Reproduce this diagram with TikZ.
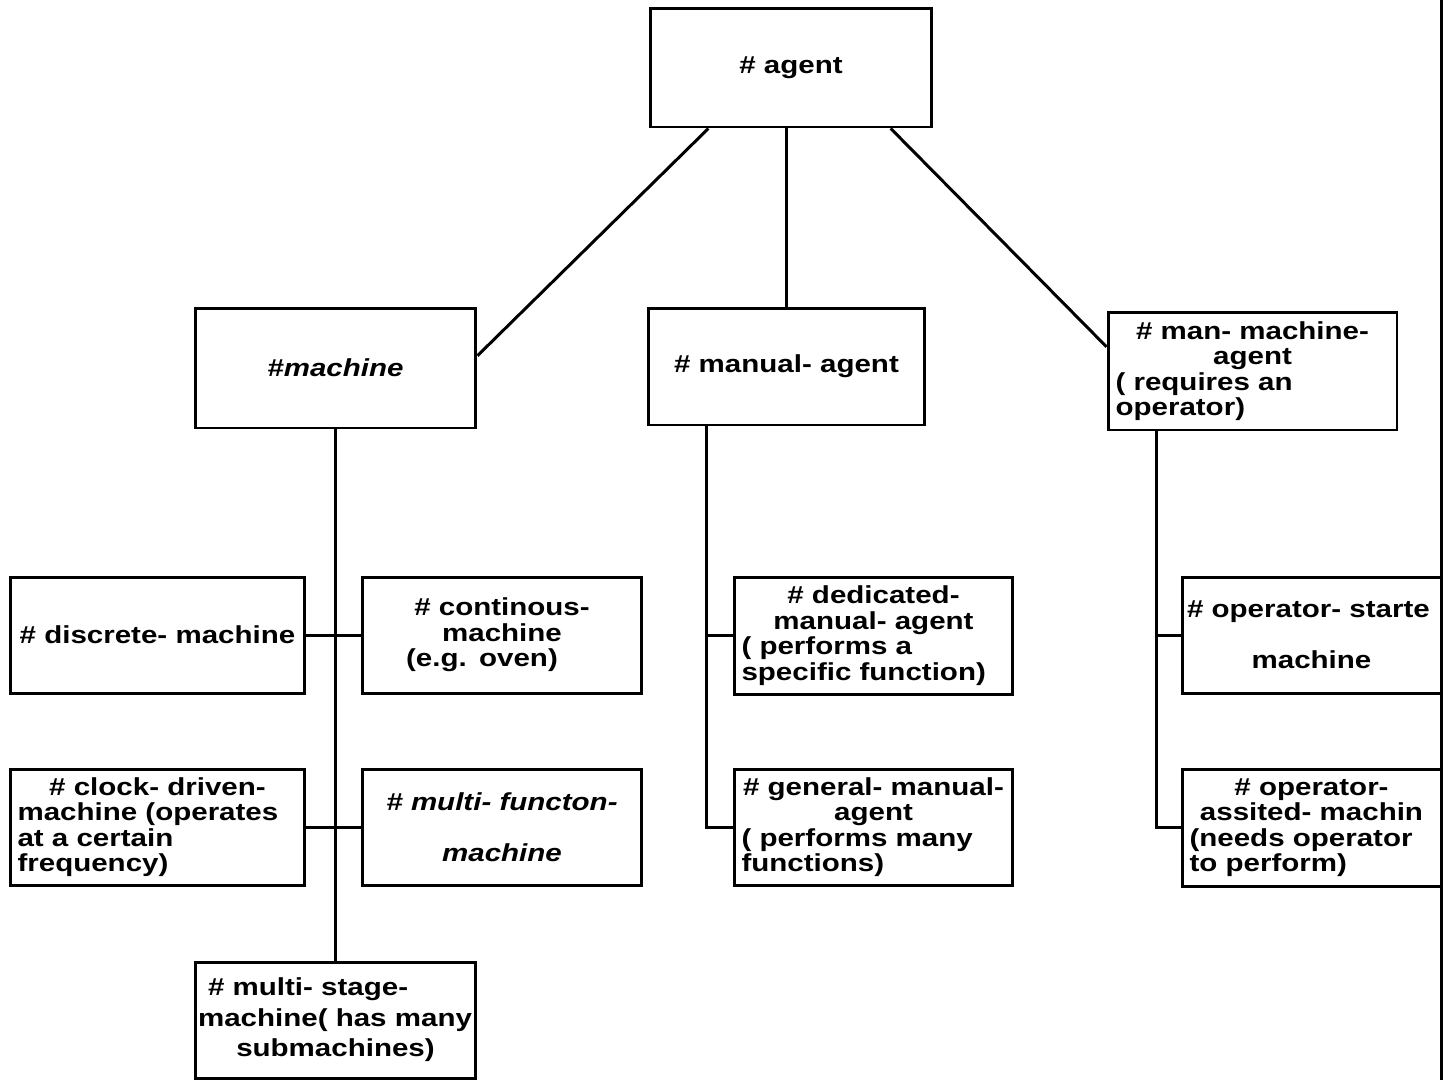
\documentclass[tikz,border=0pt]{standalone}
\usepackage{fontspec}
\newfontfamily\chartfont[FakeStretch=1.2]{Liberation Sans}
\usetikzlibrary{calc}

\begin{document}
\begin{tikzpicture}[x=0.02cm,y=-0.02cm,
    box/.style={draw, line width=1.7pt, inner xsep=0.15cm, inner ysep=0pt, align=center,
        font=\chartfont\bfseries\fontsize{14pt}{14.5pt}\selectfont},
    link/.style={line width=1.7pt}]
            \useasboundingbox (0,0) rectangle (1456,1080);
            % top box
            \node [box,text width=5.34cm,minimum height=2.38cm] (agent) at (791,67.5) {\# agent};
            % second row
            \node [box,text width=5.32cm,minimum height=2.40cm] (machine) at (335.5,368) {\itshape\#machine};
            \node [box,text width=5.24cm,minimum height=2.34cm] (manual) at (786.5,366.5) {\# manual- agent};
            \node [box,text width=5.48cm,minimum height=2.36cm] (manmach) at (1252.5,371) {\# man- machine-\\agent\par\raggedright ( requires an\\operator)\par};
            % machine kinds
            \node [box,text width=5.60cm,minimum height=2.32cm] (discrete) at (157.5,635) {\# discrete- machine};
            \node [box,text width=5.30cm,minimum height=2.32cm] (continous) at (502,635) {\# continous-\\machine\\\hspace*{-0.8cm}(e.g. oven)};
            \node [box,text width=5.60cm,minimum height=2.32cm] (clock) at (157.5,827) {\# clock- driven-\par\raggedright machine (operates\\at a certain\\frequency)\par};
            \node [box,text width=5.30cm,minimum height=2.32cm] (multifn) at (502,827) {\itshape\# multi- functon-\\[0.51cm]machine};
            \node [box,text width=5.50cm,minimum height=2.32cm,inner xsep=0.05cm] (mstage) at (335.5,1020) {\raggedright\hspace*{0.2cm}\# multi- stage-\\[0.1cm]\mbox{machine( has many}\\[0.1cm]\centering submachines)\par};
            % manual agent kinds
            \node [box,text width=5.28cm,minimum height=2.34cm] (dedicated) at (873.5,635.5) {\# dedicated-\\manual- agent\par\raggedright ( performs a\\specific function)\par};
            \node [box,text width=5.28cm,minimum height=2.32cm] (general) at (873.5,827) {\# general- manual-\\agent\par\raggedright ( performs many\\functions)\par};
            % man-machine kinds, cut at the page edge
            \node [box,text width=4.98cm,minimum height=2.32cm,inner xsep=0.1cm] (opstart) at (1311.5,635) {\raggedright\# operator- starte\par\centering\vspace{0.51cm}machine\par};
            \node [box,text width=4.88cm,minimum height=2.34cm] (opassist) at (1311.5,827.5) {\# operator-\\assited- machin\par\raggedright (needs operator\\to perform)\par};
            % lines from the top box
            \draw [link] ($(agent.south west)!.21!(agent.south east)$) -- ($(machine.north east)!.4!(machine.south east)$);
            \draw [link] (manual.north |- agent.south) -- (manual.north);
            \draw [link] ($(agent.south west)!.85!(agent.south east)$) -- ($(manmach.north west)!.3!(manmach.south west)$);
            % machine trunk
            \draw [link] (machine.south) -- (mstage.north);
            \draw [link] (discrete.east) -- (continous.west);
            \draw [link] (clock.east) -- (multifn.west);
            % manual agent trunk
            \coordinate (mtop) at ($(manual.south west)!.213!(manual.south east)$);
            \draw [link] (mtop) |- (general.west);
            \draw [link] (dedicated.west) -- (dedicated.west -| mtop);
            % man-machine trunk
            \coordinate (mmtop) at ($(manmach.south west)!.17!(manmach.south east)$);
            \draw [link] (mmtop) |- (opassist.west);
            \draw [link] (opstart.west) -- (opstart.west -| mmtop);
            % page edge
            \draw [link] (1441,0) -- (1441,1080);
\end{tikzpicture}
\end{document}
